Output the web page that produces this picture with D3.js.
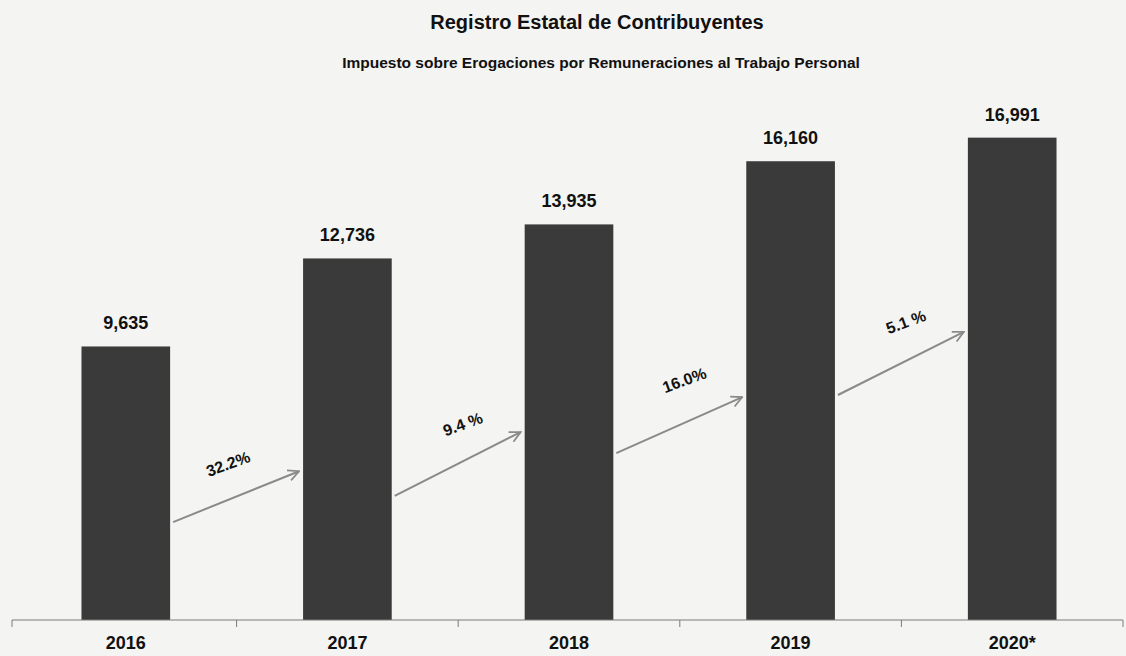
<!DOCTYPE html>
<html>
<head>
<meta charset="utf-8">
<script src="https://cdn.jsdelivr.net/npm/d3@7"></script>
<style>
  body { margin: 0; background: #f4f4f2; }
  svg { display: block; font-family: "Liberation Sans", Arial, sans-serif; }
</style>
</head>
<body>
<div id="chart"></div>
<script>
// data
var years = ["2016", "2017", "2018", "2019", "2020*"];
var contribuyentes = [9635, 12736, 13935, 16160, 16991];
var growthLabels = ["32.2%", "9.4 %", "16.0%", "5.1 %"];
// arrow start / end levels (value units) for the growth annotations
var arrowFrom = [3450, 4370, 5880, 7925];
var arrowTo = [5240, 6620, 7850, 10150];
var labelLevel = [5500, 6900, 8450, 10500];

var width = 1126, height = 656;
var margin = { left: 15, right: 3, top: 109, bottom: 36 };

var svg = d3.select("#chart").append("svg")
  .attr("width", width)
  .attr("height", height);

svg.append("rect").attr("width", width).attr("height", height).attr("fill", "#f4f4f2");

var defs = svg.append("defs");
defs.append("marker")
  .attr("id", "arrowhead")
  .attr("viewBox", "0 0 12 12")
  .attr("refX", 11).attr("refY", 6)
  .attr("markerWidth", 13).attr("markerHeight", 13)
  .attr("markerUnits", "userSpaceOnUse")
  .attr("orient", "auto")
  .append("path")
  .attr("d", "M1,1 L11,6 L1,11")
  .attr("fill", "none")
  .attr("stroke", "#8a8a8a")
  .attr("stroke-width", 1.6);

var x = d3.scaleBand()
  .domain(years)
  .range([margin.left, width - margin.right])
  .paddingInner(0.6)
  .paddingOuter(0.3);

var y = d3.scaleLinear()
  .domain([0, 18000])
  .range([height - margin.bottom, margin.top]);

// titles
svg.append("text")
  .attr("x", 597).attr("y", 29)
  .attr("text-anchor", "middle")
  .attr("font-size", "20px").attr("font-weight", "bold")
  .attr("fill", "#111")
  .text("Registro Estatal de Contribuyentes");

svg.append("text")
  .attr("x", 601).attr("y", 68)
  .attr("text-anchor", "middle")
  .attr("font-size", "15.5px").attr("font-weight", "bold")
  .attr("fill", "#111")
  .text("Impuesto sobre Erogaciones por Remuneraciones al Trabajo Personal");

// bars
svg.selectAll("rect.bar")
  .data(contribuyentes)
  .enter().append("rect")
  .attr("class", "bar")
  .attr("x", function (d, i) { return x(years[i]); })
  .attr("y", function (d) { return y(d); })
  .attr("width", x.bandwidth())
  .attr("height", function (d) { return y(0) - y(d); })
  .attr("fill", "#3a3a3a");

// value labels
svg.selectAll("text.value")
  .data(contribuyentes)
  .enter().append("text")
  .attr("class", "value")
  .attr("x", function (d, i) { return x(years[i]) + x.bandwidth() / 2; })
  .attr("y", function (d) { return y(d) - 17; })
  .attr("text-anchor", "middle")
  .attr("font-size", "18px").attr("font-weight", "bold")
  .attr("fill", "#111")
  .text(d3.format(","));

// bottom axis
var axis = svg.append("g")
  .attr("transform", "translate(0," + y(0) + ")");

axis.append("line")
  .attr("x1", margin.left - 3).attr("x2", width - margin.right)
  .attr("stroke", "#7a7a7a").attr("stroke-width", 1);

var step = x.step();
var tickXs = d3.range(years.length + 1).map(function (i) {
  return i === 0 ? margin.left - 3 : x(years[i - 1]) + x.bandwidth() + step * 0.3;
});
axis.selectAll("line.tick")
  .data(tickXs)
  .enter().append("line")
  .attr("class", "tick")
  .attr("x1", function (d) { return d; }).attr("x2", function (d) { return d; })
  .attr("y1", 0).attr("y2", 7)
  .attr("stroke", "#7a7a7a").attr("stroke-width", 1);

axis.selectAll("text")
  .data(years)
  .enter().append("text")
  .attr("x", function (d) { return x(d) + x.bandwidth() / 2; })
  .attr("y", 29)
  .attr("text-anchor", "middle")
  .attr("font-size", "18px").attr("font-weight", "bold")
  .attr("fill", "#111")
  .text(function (d) { return d; });

// growth arrows
var arrows = growthLabels.map(function (lbl, i) {
  return {
    label: lbl,
    x1: x(years[i]) + x.bandwidth() + 3,
    x2: x(years[i + 1]) - 4,
    y1: y(arrowFrom[i]),
    y2: y(arrowTo[i]),
    ly: y(labelLevel[i])
  };
});

svg.selectAll("line.arrow")
  .data(arrows)
  .enter().append("line")
  .attr("class", "arrow")
  .attr("x1", function (d) { return d.x1; })
  .attr("y1", function (d) { return d.y1; })
  .attr("x2", function (d) { return d.x2; })
  .attr("y2", function (d) { return d.y2; })
  .attr("stroke", "#8a8a8a")
  .attr("stroke-width", 2)
  .attr("marker-end", "url(#arrowhead)");

svg.selectAll("text.growth")
  .data(arrows)
  .enter().append("text")
  .attr("class", "growth")
  .attr("transform", function (d, i) {
    var dx = i === 0 ? -8 : 5;
    return "translate(" + ((d.x1 + d.x2) / 2 + dx) + "," + d.ly + ") rotate(-20)";
  })
  .attr("text-anchor", "middle")
  .attr("dy", "0.35em")
  .attr("font-size", "16px").attr("font-weight", "bold")
  .attr("fill", "#111")
  .text(function (d) { return d.label; });
</script>
</body>
</html>
